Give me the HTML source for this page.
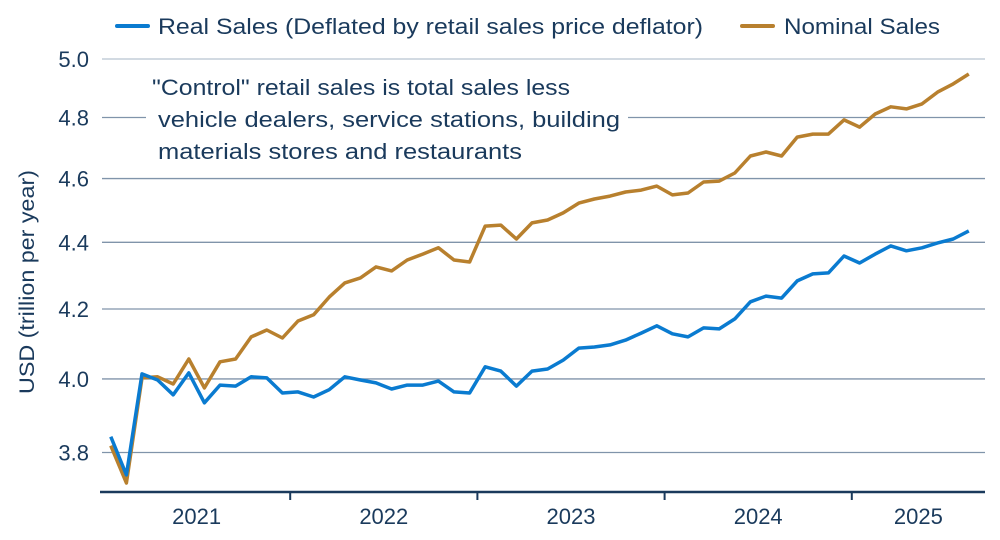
<!DOCTYPE html>
<html><head><meta charset="utf-8"><style>
body{margin:0;background:#fff;}
svg{display:block;font-family:"Liberation Sans",sans-serif;}
</style></head><body>
<svg id="chart" width="1000" height="540" viewBox="0 0 1000 540">
<g>
 <g><line x1="117" y1="26" x2="148" y2="26" stroke="#0a7bd0" stroke-width="4" stroke-linecap="round"/><text x="158" y="34" font-size="22" fill="#1a3a5c" textLength="545" lengthAdjust="spacingAndGlyphs">Real Sales (Deflated by retail sales price deflator)</text></g>
 <g><line x1="742" y1="26" x2="773" y2="26" stroke="#b8802e" stroke-width="4" stroke-linecap="round"/><text x="784" y="34" font-size="22" fill="#1a3a5c" textLength="156" lengthAdjust="spacingAndGlyphs">Nominal Sales</text></g>
</g>
<g id="grid"></g>
<g id="yticks"></g>
<text transform="translate(34,282) rotate(-90)" text-anchor="middle" font-size="21" fill="#1a3a5c" textLength="224" lengthAdjust="spacingAndGlyphs">USD (trillion per year)</text>
<g font-size="22" fill="#1a3a5c">
 <rect x="146" y="68" width="482" height="100" fill="#fff"/>
 <text x="152" y="95" textLength="418" lengthAdjust="spacingAndGlyphs">"Control" retail sales is total sales less</text>
 <text x="158" y="127" textLength="462" lengthAdjust="spacingAndGlyphs">vehicle dealers, service stations, building</text>
 <text x="158" y="159" textLength="364" lengthAdjust="spacingAndGlyphs">materials stores and restaurants</text>
</g>
<g id="xaxis"></g>
<g id="series"></g>
</svg>
<script>
const years = ["2021","2022","2023","2024","2025"];
const yTicks = [3.8, 4.0, 4.2, 4.4, 4.6, 4.8, 5.0];
const nominalSales = [3.818,3.720,4.003,4.006,3.986,4.056,3.975,4.048,4.056,4.119,4.139,4.116,4.165,4.183,4.235,4.277,4.292,4.325,4.313,4.346,4.364,4.383,4.346,4.340,4.450,4.453,4.410,4.460,4.469,4.491,4.522,4.535,4.544,4.557,4.563,4.576,4.548,4.554,4.589,4.592,4.618,4.673,4.686,4.673,4.735,4.745,4.745,4.792,4.768,4.812,4.836,4.829,4.846,4.886,4.914,4.948];
const realSales = [3.842,3.741,4.014,3.997,3.956,4.017,3.934,3.983,3.980,4.006,4.003,3.961,3.964,3.950,3.970,4.006,3.997,3.989,3.972,3.983,3.983,3.994,3.964,3.961,4.034,4.022,3.980,4.022,4.028,4.053,4.087,4.090,4.096,4.110,4.130,4.151,4.128,4.119,4.145,4.142,4.171,4.221,4.238,4.232,4.283,4.304,4.307,4.358,4.337,4.364,4.389,4.374,4.383,4.398,4.410,4.435];

const NS="http://www.w3.org/2000/svg";
const x0=103, monthW=15.6;
const yTop=59, yBot=452.5, vTop=5.0, vBot=3.8;
function xScale(i){return x0+monthW*(i+0.5);}
function yScale(v){return yTop+(Math.log(vTop)-Math.log(v))/(Math.log(vTop)-Math.log(vBot))*(yBot-yTop);}
function mk(tag,attrs,parent){const e=document.createElementNS(NS,tag);for(const k in attrs)e.setAttribute(k,attrs[k]);parent.appendChild(e);return e;}

const grid=document.getElementById('grid'), yt=document.getElementById('yticks');
yTicks.forEach(v=>{
  const y=yScale(v);
  const ln=mk('line',{x1:102,x2:985,y1:y,y2:y,stroke:v===5.0?'#b8c4d0':'#8094aa','stroke-width':1.3},grid);
  
  
  const t=mk('text',{x:89,y:y+8,'text-anchor':'end','font-size':22,fill:'#1a3a5c'},yt);
  t.textContent=v.toFixed(1);
  
  
});

const xa=document.getElementById('xaxis');
const axl=mk('line',{x1:100,x2:985,y1:492,y2:492,stroke:'#1a3a5c','stroke-width':2.5},xa);


years.forEach((yr,k)=>{
  const xs=x0+monthW*12*k;
  if(k>0){const tk=mk('line',{x1:xs,x2:xs,y1:492,y2:500,stroke:'#1a3a5c','stroke-width':2},xa);
  
  }
  const xe=Math.min(xs+monthW*12,985);
  const t=mk('text',{x:(xs+xe)/2,y:524,'text-anchor':'middle','font-size':22,fill:'#1a3a5c'},xa);
  t.textContent=yr;
  
  
});

const s=document.getElementById('series');
function drawLine(data,color,name){
  const d=data.map((v,i)=>(i?'L':'M')+xScale(i).toFixed(1)+' '+yScale(v).toFixed(1)).join(' ');
  const p=mk('path',{d:d,fill:'none',stroke:color,'stroke-width':3.5,'stroke-linejoin':'round'},s);
  
  
}
drawLine(nominalSales,'#b8802e','nominal-sales-line');
drawLine(realSales,'#0a7bd0','real-sales-line');
</script>
</body></html>
